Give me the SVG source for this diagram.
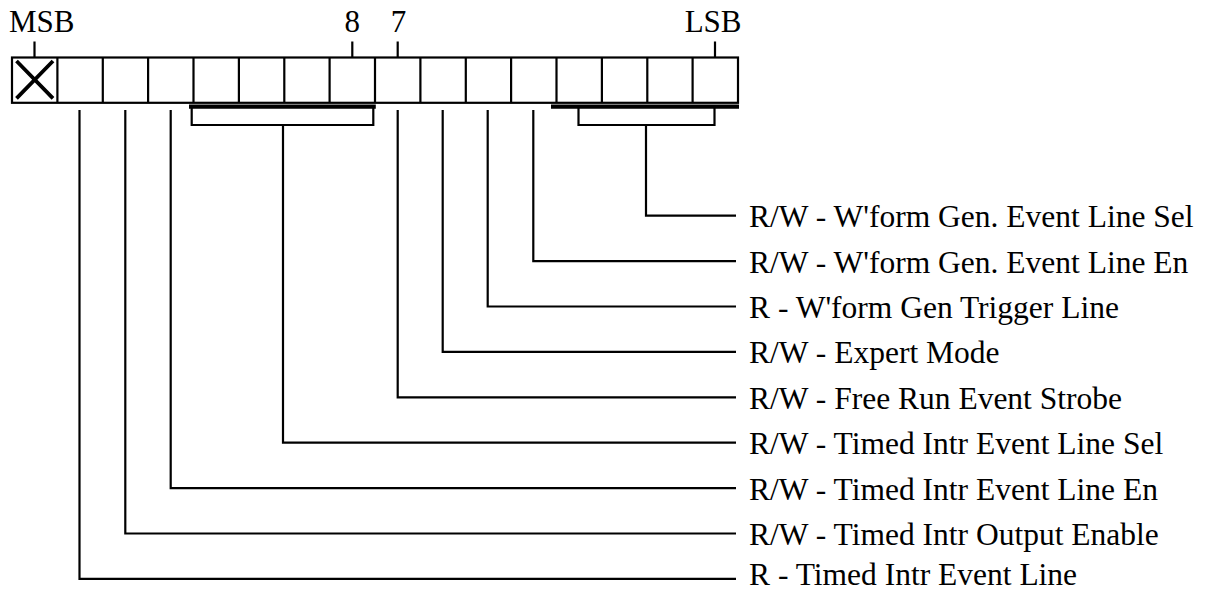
<svg xmlns="http://www.w3.org/2000/svg" width="1212" height="592" viewBox="0 0 1212 592">
  <style>
    .ln { fill: none; stroke: #000; stroke-width: 2.2; stroke-linecap: butt; stroke-linejoin: miter; }
    .bar { fill: none; stroke: #000; stroke-width: 4.2; }
    .xm { fill: none; stroke: #000; stroke-width: 3.8; }
    .cell { fill: #fff; stroke: #000; stroke-width: 2.2; }
    text { font-family: "Liberation Serif", "Times New Roman", serif; fill: #000; }
    .lbl { font-size: 31.5px; }
    .top { font-size: 31px; }
  </style>
  <rect width="1212" height="592" fill="#fff"/>

  <g id="register">
    <rect class="cell" x="12" y="57.5" width="726" height="45.3"/>
    <path class="ln" d="M57.4 57.5V102.8M102.8 57.5V102.8M148.1 57.5V102.8M193.5 57.5V102.8M238.9 57.5V102.8M284.3 57.5V102.8M329.6 57.5V102.8M375 57.5V102.8M420.4 57.5V102.8M465.8 57.5V102.8M511.1 57.5V102.8M556.5 57.5V102.8M601.9 57.5V102.8M647.3 57.5V102.8M692.6 57.5V102.8"/>
    <path class="xm" d="M16.5 61L53 98.3M53 61L16.5 98.3"/>
    <path class="bar" d="M189 106.6H375.8M551 106.6H739"/>
  </g>

  <g id="top-labels">
    <path class="ln" d="M34.5 41.5V57.5M352.3 41.5V57.5M397.7 41.5V57.5M715 41.5V57.5"/>
    <text class="top" x="9" y="32">MSB</text>
    <text class="top" x="352.3" y="32" text-anchor="middle">8</text>
    <text class="top" x="398.5" y="32" text-anchor="middle">7</text>
    <text class="top" x="741.5" y="32" text-anchor="end">LSB</text>
  </g>

  <g id="connectors">
    <path class="ln" d="M191.7 107V125H373.3V107"/>
    <path class="ln" d="M578.5 107V125H714.5V107"/>
    <path class="ln" d="M646 125V215.7H736"/>
    <path class="ln" d="M533.3 110V261.1H736"/>
    <path class="ln" d="M487.7 110V306.5H736"/>
    <path class="ln" d="M442.7 110V351.9H736"/>
    <path class="ln" d="M397.7 110V397.3H736"/>
    <path class="ln" d="M283 125V442.7H736"/>
    <path class="ln" d="M170.7 110V488.1H736"/>
    <path class="ln" d="M125.3 110V533.5H736"/>
    <path class="ln" d="M79.5 110V578.9H736"/>
  </g>

  <g id="label-wform-sel"><text class="lbl" x="749" y="227.2">R/W - W'form Gen. Event Line Sel</text></g>
  <g id="label-wform-en"><text class="lbl" x="749" y="272.6">R/W - W'form Gen. Event Line En</text></g>
  <g id="label-wform-trig"><text class="lbl" x="749" y="318">R - W'form Gen Trigger Line</text></g>
  <g id="label-expert"><text class="lbl" x="749" y="363.4">R/W - Expert Mode</text></g>
  <g id="label-freerun"><text class="lbl" x="749" y="408.8">R/W - Free Run Event Strobe</text></g>
  <g id="label-timed-sel"><text class="lbl" x="749" y="454.2">R/W - Timed Intr Event Line Sel</text></g>
  <g id="label-timed-en"><text class="lbl" x="749" y="499.6">R/W - Timed Intr Event Line En</text></g>
  <g id="label-timed-out"><text class="lbl" x="749" y="545">R/W - Timed Intr Output Enable</text></g>
  <g id="label-timed-line"><text class="lbl" x="749" y="585">R - Timed Intr Event Line</text></g>
</svg>
